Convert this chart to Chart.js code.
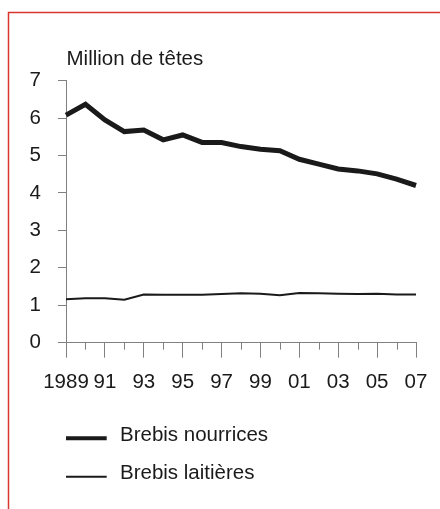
<!DOCTYPE html>
<html>
<head>
<meta charset="utf-8">
<script src="https://cdn.jsdelivr.net/npm/chart.js@4"></script>
<style>
  html, body { margin: 0; padding: 0; background: #fff; }
  #wrap { position: relative; width: 440px; height: 509px; }
</style>
</head>
<body>
<div id="wrap"><canvas id="c"></canvas></div>
<script>
// ---- data ----
const years = ['1989','1990','1991','1992','1993','1994','1995','1996','1997','1998','1999','2000','2001','2002','2003','2004','2005','2006','2007'];
const xTickLabels = ['1989','','91','','93','','95','','97','','99','','01','','03','','05','','07'];
const brebisNourrices = [6.08,6.37,5.95,5.64,5.68,5.42,5.55,5.35,5.35,5.24,5.17,5.13,4.90,4.77,4.64,4.59,4.51,4.37,4.20];
const brebisLaitieres = [1.16,1.19,1.19,1.15,1.29,1.28,1.28,1.28,1.30,1.32,1.31,1.27,1.33,1.32,1.31,1.30,1.31,1.29,1.29];
const yTicks = [0,1,2,3,4,5,6,7];
const unitLabel = 'Million de têtes';
const seriesNames = ['Brebis nourrices', 'Brebis laitières'];

const FONT = { family: '"Liberation Sans", Arial, sans-serif', size: 20.5 };
const AXIS = '#808080';
const INK = '#1a1a1a';

const decor = {
  id: 'decor',
  beforeDraw(chart) {
    const ctx = chart.ctx;
    ctx.save();
    ctx.strokeStyle = '#d7362f';
    ctx.lineWidth = 1.5;
    ctx.beginPath();
    ctx.moveTo(8.5, 509);
    ctx.lineTo(8.5, 12.5);
    ctx.lineTo(440, 12.5);
    ctx.stroke();
    ctx.restore();
  },
  afterDraw(chart) {
    const ctx = chart.ctx;
    const xs = chart.scales.x;
    const ca = chart.chartArea;
    ctx.save();
    // minor ticks (even years)
    ctx.strokeStyle = AXIS;
    ctx.lineWidth = 1;
    years.forEach((y, i) => {
      if (i % 2 === 1) {
        const px = Math.round(xs.getPixelForValue(i)) + 0.5;
        ctx.beginPath();
        ctx.moveTo(px, ca.bottom);
        ctx.lineTo(px, ca.bottom + 7);
        ctx.stroke();
      }
    });
    // unit label
    ctx.fillStyle = INK;
    ctx.font = FONT.size + 'px ' + FONT.family;
    ctx.textBaseline = 'alphabetic';
    ctx.textAlign = 'left';
    ctx.fillText(unitLabel, ca.left + 0.5, 65);
    // legend
    const rows = [{ ly: 438.3, ty: 440.5, w: 4 }, { ly: 476.7, ty: 478.5, w: 2 }];
    chart.data.datasets.forEach((ds, i) => {
      const r = rows[i];
      ctx.strokeStyle = ds.borderColor;
      ctx.lineWidth = r.w;
      ctx.beginPath();
      ctx.moveTo(66, r.ly);
      ctx.lineTo(106.7, r.ly);
      ctx.stroke();
      ctx.fillText(ds.label, 120, r.ty);
    });
    ctx.restore();
  }
};

new Chart(document.getElementById('c'), {
  type: 'line',
  data: {
    labels: years,
    datasets: [
      { label: seriesNames[0], data: brebisNourrices, borderColor: INK, borderWidth: 5, pointRadius: 0, tension: 0, fill: false, borderJoinStyle: 'miter' },
      { label: seriesNames[1], data: brebisLaitieres, borderColor: INK, borderWidth: 2, pointRadius: 0, tension: 0, fill: false }
    ]
  },
  options: {
    responsive: true,
    maintainAspectRatio: false,
    animation: false,
    layout: { padding: { left: 20, right: 24, top: 80.7, bottom: 116.3 } },
    plugins: { legend: { display: false }, tooltip: { enabled: false }, title: { display: false } },
    scales: {
      x: {
        type: 'category',
        offset: false,
        afterFit(s) { s.height = 50; },
        border: { display: true, color: AXIS, width: 1 },
        grid: {
          drawOnChartArea: false, drawTicks: true, tickLength: 15,
          tickColor: (c) => (c.index % 2 === 0 ? AXIS : 'rgba(0,0,0,0)')
        },
        ticks: {
          autoSkip: false, maxRotation: 0, minRotation: 0, padding: 12,
          color: INK, font: FONT,
          callback: (v, i) => xTickLabels[i]
        }
      },
      y: {
        min: 0, max: 7,
        afterFit(s) { s.width = 46; },
        afterBuildTicks(s) { s.ticks = yTicks.map(v => ({ value: v })); },
        border: { display: true, color: AXIS, width: 1 },
        grid: { drawOnChartArea: false, drawTicks: true, tickLength: 8, color: AXIS, tickColor: AXIS },
        ticks: { padding: 17, color: INK, font: FONT, callback: (v) => String(v) }
      }
    }
  },
  plugins: [decor]
});
</script>
</body>
</html>
